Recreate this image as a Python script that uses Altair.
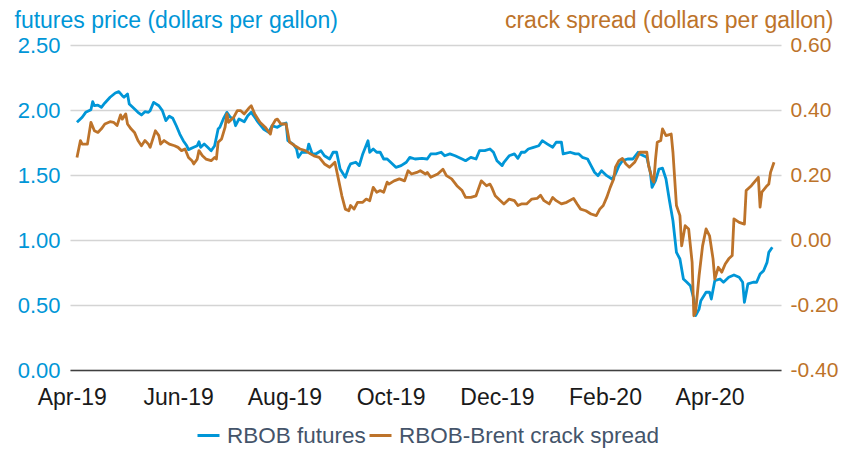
import altair as alt
import pandas as pd

rbob_dates = [
    "2019-04-04", "2019-04-07", "2019-04-09", "2019-04-12", "2019-04-13", "2019-04-14", "2019-04-16", "2019-04-18",
    "2019-04-20", "2019-04-23", "2019-04-26", "2019-04-28", "2019-04-30", "2019-05-01", "2019-05-03", "2019-05-04",
    "2019-05-06", "2019-05-09", "2019-05-11", "2019-05-13", "2019-05-15", "2019-05-16", "2019-05-18", "2019-05-21",
    "2019-05-23", "2019-05-25", "2019-05-27", "2019-05-29", "2019-05-31", "2019-06-02", "2019-06-04", "2019-06-06",
    "2019-06-07", "2019-06-10", "2019-06-12", "2019-06-13", "2019-06-14", "2019-06-16", "2019-06-18", "2019-06-20",
    "2019-06-22", "2019-06-24", "2019-06-25", "2019-06-27", "2019-06-29", "2019-07-01", "2019-07-03", "2019-07-04",
    "2019-07-06", "2019-07-09", "2019-07-11", "2019-07-13", "2019-07-15", "2019-07-17", "2019-07-20", "2019-07-23",
    "2019-07-25", "2019-07-28", "2019-07-31", "2019-08-02", "2019-08-03", "2019-08-06", "2019-08-08", "2019-08-09",
    "2019-08-11", "2019-08-14", "2019-08-15", "2019-08-17", "2019-08-19", "2019-08-22", "2019-08-24", "2019-08-27",
    "2019-08-29", "2019-08-31", "2019-09-02", "2019-09-05", "2019-09-07", "2019-09-08", "2019-09-11", "2019-09-13",
    "2019-09-15", "2019-09-18", "2019-09-19", "2019-09-21", "2019-09-23", "2019-09-25", "2019-09-27", "2019-09-29",
    "2019-10-01", "2019-10-04", "2019-10-07", "2019-10-10", "2019-10-12", "2019-10-15", "2019-10-19", "2019-10-22",
    "2019-10-24", "2019-10-27", "2019-10-30", "2019-11-01", "2019-11-04", "2019-11-07", "2019-11-11", "2019-11-13",
    "2019-11-16", "2019-11-19", "2019-11-21", "2019-11-24", "2019-11-27", "2019-11-29", "2019-12-01", "2019-12-04",
    "2019-12-05", "2019-12-08", "2019-12-11", "2019-12-13", "2019-12-15", "2019-12-17", "2019-12-19", "2019-12-22",
    "2019-12-25", "2019-12-27", "2019-12-30", "2020-01-02", "2020-01-04", "2020-01-07", "2020-01-08", "2020-01-12",
    "2020-01-15", "2020-01-17", "2020-01-19", "2020-01-22", "2020-01-24", "2020-01-26", "2020-01-28", "2020-01-30",
    "2020-02-02", "2020-02-05", "2020-02-07", "2020-02-09", "2020-02-11", "2020-02-14", "2020-02-17", "2020-02-20",
    "2020-02-21", "2020-02-25", "2020-02-27", "2020-02-28", "2020-03-01", "2020-03-03", "2020-03-05", "2020-03-07",
    "2020-03-09", "2020-03-11", "2020-03-13", "2020-03-15", "2020-03-17", "2020-03-19", "2020-03-21", "2020-03-23",
    "2020-03-24", "2020-03-26", "2020-03-27", "2020-03-30", "2020-04-01", "2020-04-02", "2020-04-04", "2020-04-07",
    "2020-04-09", "2020-04-12", "2020-04-15", "2020-04-18", "2020-04-20", "2020-04-21", "2020-04-23", "2020-04-26",
    "2020-04-28", "2020-04-30", "2020-05-02", "2020-05-04", "2020-05-05", "2020-05-07",
]
rbob_values = [
    1.905, 1.944, 1.982, 2.002, 2.064, 2.033, 2.038, 2.021,
    2.054, 2.098, 2.131, 2.141, 2.110, 2.098, 2.123, 2.046,
    2.021, 1.982, 1.962, 1.987, 1.982, 1.995, 2.059, 2.033,
    1.995, 1.918, 1.952, 1.936, 1.879, 1.815, 1.764, 1.725,
    1.695, 1.713, 1.725, 1.756, 1.713, 1.738, 1.713, 1.687,
    1.725, 1.854, 1.867, 1.931, 1.982, 1.944, 1.931, 1.879,
    1.931, 1.910, 1.956, 1.982, 1.944, 1.905, 1.854, 1.828,
    1.879, 1.867, 1.892, 1.900, 1.764, 1.738, 1.700, 1.636,
    1.675, 1.675, 1.738, 1.662, 1.662, 1.687, 1.648, 1.623,
    1.675, 1.675, 1.546, 1.482, 1.559, 1.585, 1.598, 1.572,
    1.662, 1.764, 1.675, 1.700, 1.675, 1.675, 1.623, 1.623,
    1.598, 1.559, 1.572, 1.598, 1.636, 1.623, 1.628, 1.623,
    1.662, 1.662, 1.675, 1.648, 1.662, 1.648, 1.623, 1.610,
    1.636, 1.623, 1.687, 1.687, 1.700, 1.675, 1.610, 1.572,
    1.598, 1.648, 1.662, 1.628, 1.675, 1.675, 1.700, 1.713,
    1.725, 1.764, 1.738, 1.713, 1.752, 1.752, 1.662, 1.675,
    1.662, 1.662, 1.636, 1.623, 1.572, 1.521, 1.495, 1.533,
    1.495, 1.469, 1.508, 1.572, 1.610, 1.623, 1.623, 1.675,
    1.662, 1.636, 1.521, 1.405, 1.456, 1.546, 1.552, 1.469,
    1.302, 1.148, 0.905, 0.854, 0.700, 0.675, 0.648, 0.546,
    0.418, 0.469, 0.533, 0.598, 0.598, 0.546, 0.687, 0.700,
    0.675, 0.713, 0.731, 0.713, 0.675, 0.521, 0.662, 0.675,
    0.675, 0.738, 0.764, 0.828, 0.905, 0.944,
]

crack_dates = [
    "2019-04-04", "2019-04-05", "2019-04-06", "2019-04-07", "2019-04-10", "2019-04-12", "2019-04-14", "2019-04-16",
    "2019-04-18", "2019-04-20", "2019-04-23", "2019-04-25", "2019-04-27", "2019-04-29", "2019-04-30", "2019-05-02",
    "2019-05-03", "2019-05-05", "2019-05-07", "2019-05-09", "2019-05-11", "2019-05-13", "2019-05-15", "2019-05-16",
    "2019-05-19", "2019-05-21", "2019-05-22", "2019-05-24", "2019-05-27", "2019-05-30", "2019-06-01", "2019-06-03",
    "2019-06-05", "2019-06-07", "2019-06-09", "2019-06-10", "2019-06-12", "2019-06-13", "2019-06-15", "2019-06-17",
    "2019-06-20", "2019-06-22", "2019-06-23", "2019-06-24", "2019-06-26", "2019-06-28", "2019-06-29", "2019-06-30",
    "2019-07-03", "2019-07-05", "2019-07-07", "2019-07-09", "2019-07-12", "2019-07-13", "2019-07-15", "2019-07-18",
    "2019-07-21", "2019-07-24", "2019-07-25", "2019-07-27", "2019-07-28", "2019-07-30", "2019-08-02", "2019-08-04",
    "2019-08-07", "2019-08-10", "2019-08-13", "2019-08-16", "2019-08-18", "2019-08-21", "2019-08-24", "2019-08-27",
    "2019-08-30", "2019-09-01", "2019-09-03", "2019-09-05", "2019-09-07", "2019-09-08", "2019-09-10", "2019-09-12",
    "2019-09-15", "2019-09-17", "2019-09-19", "2019-09-21", "2019-09-23", "2019-09-25", "2019-09-27", "2019-09-29",
    "2019-09-30", "2019-10-03", "2019-10-06", "2019-10-09", "2019-10-11", "2019-10-13", "2019-10-16", "2019-10-18",
    "2019-10-21", "2019-10-22", "2019-10-24", "2019-10-28", "2019-10-31", "2019-11-02", "2019-11-05", "2019-11-08",
    "2019-11-11", "2019-11-13", "2019-11-16", "2019-11-19", "2019-11-22", "2019-11-25", "2019-11-27", "2019-11-28",
    "2019-11-30", "2019-12-03", "2019-12-05", "2019-12-08", "2019-12-11", "2019-12-13", "2019-12-15", "2019-12-18",
    "2019-12-21", "2019-12-24", "2019-12-26", "2019-12-28", "2019-12-31", "2020-01-02", "2020-01-04", "2020-01-07",
    "2020-01-10", "2020-01-14", "2020-01-16", "2020-01-18", "2020-01-21", "2020-01-24", "2020-01-27", "2020-01-29",
    "2020-01-31", "2020-02-02", "2020-02-04", "2020-02-06", "2020-02-07", "2020-02-09", "2020-02-11", "2020-02-13",
    "2020-02-15", "2020-02-18", "2020-02-21", "2020-02-25", "2020-02-26", "2020-02-28", "2020-02-29", "2020-03-01",
    "2020-03-02", "2020-03-04", "2020-03-05", "2020-03-07", "2020-03-10", "2020-03-11", "2020-03-13", "2020-03-15",
    "2020-03-16", "2020-03-18", "2020-03-20", "2020-03-22", "2020-03-23", "2020-03-24", "2020-03-26", "2020-03-28",
    "2020-03-30", "2020-04-01", "2020-04-03", "2020-04-04", "2020-04-06", "2020-04-08", "2020-04-10", "2020-04-12",
    "2020-04-14", "2020-04-15", "2020-04-18", "2020-04-21", "2020-04-22", "2020-04-25", "2020-04-29", "2020-04-30",
    "2020-05-01", "2020-05-04", "2020-05-05", "2020-05-06", "2020-05-08",
]
crack_values = [
    0.254, 0.280, 0.306, 0.295, 0.295, 0.362, 0.336, 0.331,
    0.342, 0.357, 0.364, 0.362, 0.352, 0.385, 0.372, 0.388,
    0.357, 0.342, 0.331, 0.306, 0.290, 0.306, 0.295, 0.285,
    0.336, 0.321, 0.295, 0.306, 0.295, 0.290, 0.285, 0.275,
    0.280, 0.254, 0.244, 0.234, 0.249, 0.275, 0.259, 0.249,
    0.244, 0.254, 0.249, 0.301, 0.311, 0.347, 0.388, 0.362,
    0.378, 0.398, 0.398, 0.388, 0.408, 0.413, 0.388, 0.362,
    0.347, 0.326, 0.352, 0.370, 0.372, 0.357, 0.357, 0.301,
    0.290, 0.280, 0.275, 0.265, 0.259, 0.254, 0.234, 0.224,
    0.239, 0.188, 0.136, 0.095, 0.090, 0.106, 0.095, 0.116,
    0.116, 0.126, 0.121, 0.162, 0.147, 0.152, 0.147, 0.178,
    0.172, 0.182, 0.188, 0.182, 0.213, 0.203, 0.208, 0.213,
    0.203, 0.208, 0.193, 0.203, 0.218, 0.198, 0.188, 0.167,
    0.152, 0.131, 0.131, 0.136, 0.182, 0.167, 0.172, 0.162,
    0.136, 0.121, 0.111, 0.126, 0.121, 0.106, 0.111, 0.111,
    0.126, 0.128, 0.138, 0.121, 0.111, 0.131, 0.121, 0.111,
    0.116, 0.128, 0.111, 0.095, 0.090, 0.080, 0.075, 0.095,
    0.106, 0.131, 0.162, 0.188, 0.224, 0.244, 0.251, 0.234,
    0.224, 0.239, 0.270, 0.270, 0.229, 0.188, 0.178, 0.249,
    0.301, 0.306, 0.342, 0.321, 0.326, 0.270, 0.106, 0.075,
    -0.018, 0.044, 0.034, -0.069, -0.233, -0.222, -0.110, -0.018,
    0.034, 0.013, -0.058, -0.120, -0.084, -0.099, -0.074, -0.058,
    -0.048, 0.065, 0.054, 0.049, 0.152, 0.167, 0.193, 0.101,
    0.147, 0.167, 0.172, 0.208, 0.239,
]

series_names = ["RBOB futures", "RBOB-Brent crack spread"]
left_ticks = [0.0, 0.5, 1.0, 1.5, 2.0, 2.5]
right_ticks = [-0.4, -0.2, 0.0, 0.2, 0.4, 0.6]
month_ticks = [(2019, 4), (2019, 6), (2019, 8), (2019, 10), (2019, 12), (2020, 2), (2020, 4)]

BLUE = "#0096d7"
ORANGE = "#bd732a"
FONT = "Liberation Sans"

df_rbob = pd.DataFrame({"date": rbob_dates, "value": rbob_values, "series": series_names[0]})
df_crack = pd.DataFrame({"date": crack_dates, "value": crack_values, "series": series_names[1]})

x_enc = alt.X(
    "date:T",
    title=None,
    scale=alt.Scale(
        type="utc",
        domain=[alt.DateTime(year=2019, month=3, date=31, utc=True),
                alt.DateTime(year=2020, month=5, date=12, utc=True)],
    ),
    axis=alt.Axis(
        values=[alt.DateTime(year=y, month=m, date=1, utc=True) for y, m in month_ticks],
        format="%b-%y",
        labelFont=FONT, labelFontSize=23, labelColor="#1a1a1a",
        labelPadding=16, ticks=False, tickSize=0, grid=False,
        domainColor="#404040", domainWidth=1.5,
    ),
)

color_enc = alt.Color(
    "series:N",
    scale=alt.Scale(domain=series_names, range=[BLUE, ORANGE]),
    legend=alt.Legend(
        title=None, orient="none", direction="horizontal",
        legendX=126, legendY=378,
        symbolType="stroke", symbolStrokeWidth=3, symbolSize=484,
        labelFont=FONT, labelFontSize=22.5, labelColor="#44546A",
        labelOffset=6, columnPadding=-3, labelLimit=500,
    ),
)

hyphen_labels = "replace(format(datum.value, '.2f'), '\u2212', '-')"

rbob_line = alt.Chart(df_rbob).mark_line(strokeWidth=2.8, strokeJoin="round").encode(
    x=x_enc,
    y=alt.Y(
        "value:Q",
        scale=alt.Scale(domain=[0, 2.5], nice=False, zero=False),
        axis=alt.Axis(
            orient="left", values=left_ticks, format=".2f",
            title="futures price (dollars per gallon)",
            titleAngle=0, titleAlign="left", titleBaseline="alphabetic",
            titleX=-56, titleY=-18, titleColor=BLUE, titleFont=FONT,
            titleFontSize=23, titleFontWeight="normal",
            labelFont=FONT, labelFontSize=22, labelColor=BLUE, labelPadding=10,
            domain=False, ticks=False, tickSize=0,
            grid=True, gridColor="#d4d4d4", gridWidth=1.5,
        ),
    ),
    color=color_enc,
)

crack_line = alt.Chart(df_crack).mark_line(strokeWidth=2.8, strokeJoin="round").encode(
    x=x_enc,
    y=alt.Y(
        "value:Q",
        scale=alt.Scale(domain=[-0.4, 0.6], nice=False, zero=False),
        axis=alt.Axis(
            orient="right", values=right_ticks, format=".2f",
            labelExpr=hyphen_labels,
            title="crack spread (dollars per gallon)",
            titleAngle=0, titleAlign="right", titleBaseline="alphabetic",
            titleX=52, titleY=-18, titleColor=ORANGE, titleFont=FONT,
            titleFontSize=23, titleFontWeight="normal",
            labelFont=FONT, labelFontSize=21, labelColor=ORANGE, labelPadding=9,
            domain=False, ticks=False, tickSize=0, grid=False,
        ),
    ),
    color=color_enc,
)

chart = (
    alt.layer(rbob_line, crack_line)
    .resolve_scale(y="independent")
    .properties(
        width=711, height=325,
        padding={"left": 62, "top": 37, "right": 58, "bottom": 80},
        autosize=alt.AutoSizeParams(type="none"),
    )
    .configure_view(stroke=None)
)

chart.save("out.html", embed_options={"renderer": "svg", "actions": False})
